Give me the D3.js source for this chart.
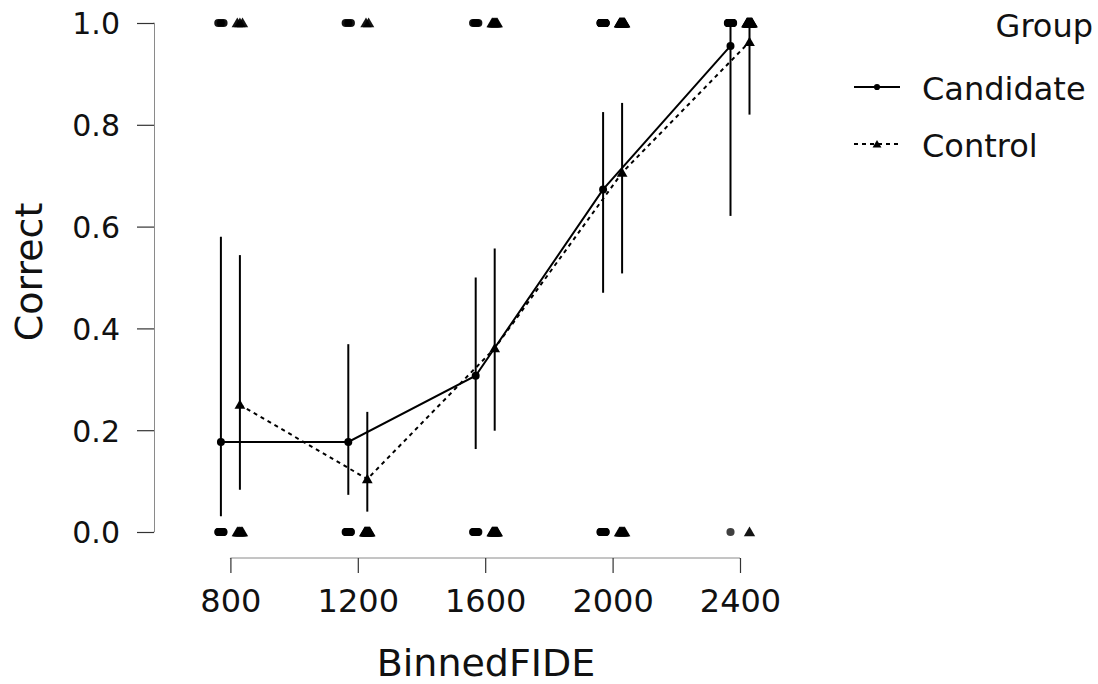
<!DOCTYPE html>
<html>
<head>
<meta charset="utf-8">
<script src="https://cdn.jsdelivr.net/npm/d3@7/dist/d3.min.js"></script>
<style>
  html, body { margin: 0; padding: 0; background: #fff; }
  svg { display: block; font-family: "DejaVu Sans", sans-serif; }
</style>
</head>
<body>
<svg id="chart" width="1098" height="684"></svg>
<script>
// Binned FIDE rating and proportion correct per group
const bins = [800, 1200, 1600, 2000, 2400];
const groups = ["Candidate", "Control"];

const candidateMean  = [0.177, 0.177, 0.307, 0.673, 0.955];
const candidateLower = [0.031, 0.073, 0.163, 0.470, 0.621];
const candidateUpper = [0.580, 0.369, 0.500, 0.825, 1.000];

const controlMean  = [0.250, 0.104, 0.361, 0.706, 0.963];
const controlLower = [0.083, 0.040, 0.199, 0.508, 0.820];
const controlUpper = [0.544, 0.236, 0.557, 0.843, 1.000];

// raw observations per bin: number of correct (1) and incorrect (0) answers
const candidateCorrect = [3, 3, 4, 35, 21];
const candidateWrong   = [14, 14, 9, 17, 1];
const controlCorrect   = [3, 2, 9, 24, 26];
const controlWrong     = [9, 17, 16, 10, 1];

const yTicks = [0, 0.2, 0.4, 0.6, 0.8, 1.0];
const xTicks = [800, 1200, 1600, 2000, 2400];

const series = [
  { name: groups[0], mean: candidateMean, lo: candidateLower, hi: candidateUpper,
    correct: candidateCorrect, wrong: candidateWrong, shape: d3.symbolCircle, dash: null, side: -1 },
  { name: groups[1], mean: controlMean, lo: controlLower, hi: controlUpper,
    correct: controlCorrect, wrong: controlWrong, shape: d3.symbolTriangle, dash: "4,4", side: 1 }
];

const svg = d3.select("#chart");
const x = d3.scaleLinear().domain([800, 2400]).range([230.4, 740]);
const y = d3.scaleLinear().domain([0, 1]).range([532, 23]);
const dodge = 9.5;
const axisColor = "#8a8a8a";

// y axis
const yAxis = svg.append("g").attr("transform", "translate(154,0)")
  .call(d3.axisLeft(y).tickValues(yTicks).tickFormat(d3.format(".1f")).tickSize(17).tickPadding(17));
yAxis.select(".domain").attr("stroke", axisColor).attr("d", `M-0.5,${y(1)}H0.5V${y(0)}H-0.5`);
yAxis.selectAll(".tick line").attr("stroke", "#333").attr("stroke-width", 1.2);
yAxis.selectAll(".tick text").attr("font-size", 30).attr("fill", "#111")
  .attr("font-family", "DejaVu Sans").attr("dy", "0.36em");

// x axis
const xAxis = svg.append("g").attr("transform", "translate(0,558)")
  .call(d3.axisBottom(x).tickValues(xTicks).tickFormat(d3.format("d")).tickSize(15).tickPadding(16));
xAxis.select(".domain").attr("stroke", axisColor).attr("d", `M${x(800)},1H${x(800)}V0H${x(2400)}V1`);
xAxis.selectAll(".tick line").attr("stroke", "#333").attr("stroke-width", 1.2);
xAxis.selectAll(".tick text").attr("font-size", 32).attr("fill", "#111")
  .attr("font-family", "DejaVu Sans").attr("dy", "0.71em");

// axis titles
svg.append("text").attr("x", 486).attr("y", 676).attr("text-anchor", "middle")
  .attr("font-size", 38).attr("fill", "#111").text("BinnedFIDE");
svg.append("text").attr("transform", `translate(42,272) rotate(-90)`)
  .attr("text-anchor", "middle").attr("font-size", 38).attr("fill", "#111").text("Correct");

const symbolFor = (s, area) => d3.symbol().type(s.shape).size(area)();

// raw observations, spread slightly side to side
const plot = svg.append("g");
series.forEach(s => {
  const isTri = s.shape === d3.symbolTriangle;
  const area = isTri ? 56 : 52;
  bins.forEach((b, i) => {
    [[1, s.correct[i]], [0, s.wrong[i]]].forEach(([val, n]) => {
      const spread = Math.min(5.2, (n - 1) * 2.6);
      const pts = d3.range(n).map(k => n === 1 ? 0 : -spread / 2 + spread * k / (n - 1));
      plot.append("g").selectAll("path").data(pts).join("path")
        .attr("d", symbolFor(s, area))
        .attr("transform", off => `translate(${x(b) + s.side * dodge + off},${y(val) + (isTri ? 1 : 0)})`)
        .attr("fill", "#000").attr("fill-opacity", n === 1 && !isTri ? 0.75 : 0.92);
    });
  });
});

// error bars
series.forEach(s => {
  plot.append("g").selectAll("line").data(bins).join("line")
    .attr("x1", (b) => x(b) + s.side * dodge).attr("x2", (b) => x(b) + s.side * dodge)
    .attr("y1", (b, i) => y(s.lo[i])).attr("y2", (b, i) => y(s.hi[i]))
    .attr("stroke", "#000").attr("stroke-width", 2);
});

// mean lines and points
const line = d3.line().x(d => x(d.b) + d.side * dodge).y(d => y(d.m));
series.forEach(s => {
  const pts = bins.map((b, i) => ({ b, m: s.mean[i], side: s.side }));
  plot.append("path").datum(pts).attr("d", line).attr("fill", "none")
    .attr("stroke", "#000").attr("stroke-width", 2)
    .attr("stroke-dasharray", s.dash);
  plot.append("g").selectAll("path").data(pts).join("path")
    .attr("d", symbolFor(s, 50))
    .attr("transform", d => `translate(${x(d.b) + d.side * dodge},${y(d.m) + (s.shape === d3.symbolTriangle ? 1 : 0)})`)
    .attr("fill", "#000");
});

// legend
const legend = svg.append("g");
legend.append("text").attr("x", 1093).attr("y", 37).attr("text-anchor", "end")
  .attr("font-size", 32).attr("fill", "#111").text("Group");
series.forEach((s, i) => {
  const ly = 87 + i * 57;
  legend.append("line").attr("x1", 854).attr("x2", 900).attr("y1", ly).attr("y2", ly)
    .attr("stroke", "#000").attr("stroke-width", 2).attr("stroke-dasharray", s.dash);
  legend.append("path").attr("d", symbolFor(s, s.shape === d3.symbolCircle ? 30 : 34))
    .attr("transform", `translate(877,${ly + (s.shape === d3.symbolTriangle ? 1 : 0)})`).attr("fill", "#000");
  legend.append("text").attr("x", 922).attr("y", ly + 13).attr("font-size", 32)
    .attr("fill", "#111").text(s.name);
});
</script>
</body>
</html>
